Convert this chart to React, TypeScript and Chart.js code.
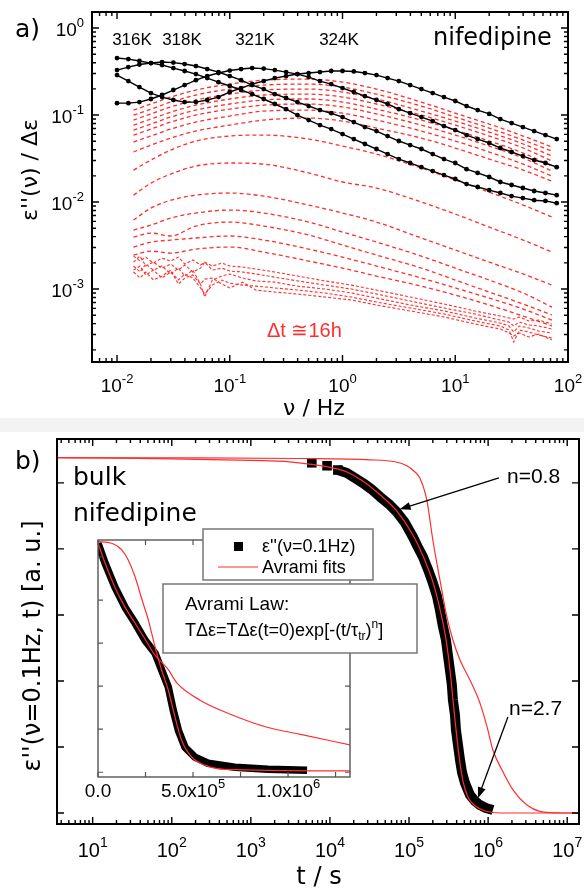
import React, { useEffect, useRef } from "react";
import { Chart, registerables } from "chart.js";
Chart.register(...registerables);

// ---------------- Panel a: dielectric loss spectra ----------------
const FREQ_HZ = [0.01, 0.0126, 0.0158, 0.02, 0.0251, 0.0316, 0.0398, 0.0501, 0.0631, 0.0794, 0.1, 0.126, 0.158, 0.2, 0.251, 0.316, 0.398, 0.501, 0.631, 0.794, 1, 1.26, 1.58, 2, 2.51, 3.16, 3.98, 5.01, 6.31, 7.94, 10, 12.6, 15.8, 20, 25.1, 31.6, 39.8, 50.1, 63.1, 79.4];
const EPS_316K = [0.452, 0.44, 0.418, 0.396, 0.376, 0.347, 0.321, 0.296, 0.266, 0.239, 0.216, 0.194, 0.174, 0.153, 0.134, 0.117, 0.1, 0.0876, 0.0767, 0.069, 0.0605, 0.053, 0.0465, 0.0407, 0.0356, 0.0312, 0.0281, 0.0252, 0.0227, 0.0204, 0.0184, 0.0161, 0.0149, 0.0137, 0.0127, 0.0117, 0.0111, 0.0105, 0.0103, 0.0097];
const EPS_318K = [0.329, 0.356, 0.381, 0.396, 0.407, 0.401, 0.386, 0.366, 0.338, 0.312, 0.281, 0.252, 0.221, 0.199, 0.174, 0.157, 0.141, 0.127, 0.114, 0.105, 0.0948, 0.0831, 0.0728, 0.0655, 0.0574, 0.0503, 0.0452, 0.0407, 0.0356, 0.0312, 0.0281, 0.0239, 0.0216, 0.0194, 0.017, 0.0157, 0.0145, 0.0134, 0.0127, 0.012];
const EPS_321K = [0.137, 0.137, 0.141, 0.153, 0.17, 0.194, 0.221, 0.252, 0.281, 0.304, 0.325, 0.338, 0.347, 0.342, 0.329, 0.312, 0.296, 0.273, 0.246, 0.227, 0.204, 0.184, 0.165, 0.149, 0.134, 0.117, 0.105, 0.0948, 0.0853, 0.0748, 0.0672, 0.0589, 0.053, 0.0477, 0.0418, 0.0376, 0.0338, 0.0304, 0.0281, 0.0252];
const EPS_324K = [0.288, 0.246, 0.21, 0.179, 0.161, 0.149, 0.141, 0.141, 0.149, 0.161, 0.184, 0.204, 0.227, 0.246, 0.266, 0.281, 0.296, 0.304, 0.312, 0.321, 0.321, 0.317, 0.304, 0.288, 0.266, 0.246, 0.221, 0.199, 0.179, 0.161, 0.145, 0.127, 0.114, 0.103, 0.09, 0.0809, 0.0728, 0.0655, 0.0589, 0.053];
const TEMP_LABELS = ["316K", "318K", "321K", "324K"];

const FREQ_RED = [0.014, 0.02, 0.03, 0.05, 0.1, 0.2, 0.5, 1, 2, 5, 10, 20, 40, 72];
const RED_01 = [0.114, 0.134, 0.161, 0.194, 0.227, 0.252, 0.259, 0.239, 0.199, 0.141, 0.105, 0.0788, 0.0574, 0.0429];
const RED_02 = [0.1, 0.117, 0.141, 0.17, 0.199, 0.221, 0.227, 0.21, 0.174, 0.127, 0.0948, 0.0709, 0.0516, 0.0386];
const RED_03 = [0.0876, 0.103, 0.124, 0.149, 0.174, 0.194, 0.199, 0.184, 0.153, 0.111, 0.0853, 0.0638, 0.0465, 0.0338];
const RED_04 = [0.0767, 0.09, 0.108, 0.13, 0.153, 0.17, 0.174, 0.161, 0.134, 0.1, 0.0767, 0.0574, 0.0418, 0.0296];
const RED_05 = [0.0672, 0.0788, 0.0948, 0.114, 0.134, 0.149, 0.153, 0.141, 0.117, 0.0876, 0.0672, 0.0503, 0.0366, 0.0259];
const RED_06 = [0.0589, 0.069, 0.0831, 0.1, 0.117, 0.13, 0.134, 0.124, 0.103, 0.0767, 0.0589, 0.044, 0.0321, 0.0227];
const RED_07 = [0.049, 0.0574, 0.069, 0.0831, 0.0974, 0.111, 0.114, 0.105, 0.0876, 0.0655, 0.0503, 0.0376, 0.0273, 0.0199];
const RED_08 = [0.0376, 0.0452, 0.0544, 0.0655, 0.0767, 0.0876, 0.0924, 0.0853, 0.0709, 0.0544, 0.0418, 0.0312, 0.0233, 0.0174];
const RED_09 = [0.0233, 0.0304, 0.0396, 0.0503, 0.0574, 0.0589, 0.053, 0.044, 0.0356, 0.0246, 0.0179, 0.013, 0.00924, 0.00672];
const RED_10 = [0.012, 0.0165, 0.021, 0.0259, 0.0281, 0.0273, 0.0216, 0.017, 0.0145, 0.01, 0.00728, 0.00516, 0.00366, 0.00266];
const RED_11 = [0.00621, 0.00853, 0.0105, 0.012, 0.0127, 0.0117, 0.00924, 0.00748, 0.00589, 0.00386, 0.00281, 0.00204, 0.00149, 0.00111];
const RED_12 = [0.00477, 0.00544, 0.00655, 0.00748, 0.00809, 0.00748, 0.00589, 0.00452, 0.00347, 0.00239, 0.00174, 0.00127, 0.0009, 0.000621];
const RED_13 = [0.00396, 0.0044, 0.00407, 0.0053, 0.00589, 0.0053, 0.00418, 0.00321, 0.00246, 0.00174, 0.00127, 0.000924, 0.000672, 0.000503];
const RED_14 = [0.00304, 0.00347, 0.00366, 0.00386, 0.00407, 0.00366, 0.00288, 0.00233, 0.00184, 0.00134, 0.00103, 0.000788, 0.000589, 0.00044];
const RED_15 = [0.00246, 0.00273, 0.00259, 0.00288, 0.00304, 0.00266, 0.0021, 0.00174, 0.00141, 0.00108, 0.000853, 0.000655, 0.00049, 0.000376];

const FREQ_NOISY = [0.014, 0.016, 0.018, 0.021, 0.025, 0.03, 0.035, 0.04, 0.047, 0.055, 0.06, 0.07, 0.085, 0.1, 0.13, 0.17, 0.25, 0.4, 0.7, 1.2, 2, 4, 8, 15, 25, 30, 33, 37, 45, 55, 72];
const NOISY_1 = [0.00239, 0.0021, 0.00233, 0.00199, 0.00227, 0.0021, 0.00233, 0.00194, 0.00216, 0.00189, 0.00204, 0.00184, 0.00199, 0.00184, 0.00179, 0.0017, 0.00157, 0.00141, 0.00124, 0.00111, 0.000974, 0.000809, 0.000672, 0.000559, 0.00049, 0.000465, 0.000452, 0.000477, 0.000429, 0.00044, 0.000396];
const NOISY_2 = [0.00204, 0.00239, 0.00184, 0.00204, 0.00174, 0.00194, 0.00165, 0.00189, 0.00157, 0.00174, 0.00204, 0.00165, 0.00174, 0.00161, 0.00157, 0.00149, 0.00137, 0.00124, 0.00111, 0.001, 0.000876, 0.000728, 0.000605, 0.000516, 0.00044, 0.000418, 0.000376, 0.000418, 0.000386, 0.000376, 0.000347];
const NOISY_3 = [0.00184, 0.00157, 0.00194, 0.00165, 0.00184, 0.00149, 0.00174, 0.00141, 0.00165, 0.00114, 0.000809, 0.00127, 0.00141, 0.00149, 0.00134, 0.00124, 0.0012, 0.00108, 0.001, 0.0009, 0.000788, 0.000655, 0.000559, 0.000465, 0.000407, 0.000376, 0.000321, 0.000376, 0.000356, 0.000329, 0.000312];
const NOISY_4 = [0.00165, 0.00184, 0.00145, 0.00165, 0.00134, 0.00157, 0.00127, 0.00149, 0.00134, 0.00103, 0.000876, 0.00111, 0.00127, 0.00117, 0.00111, 0.00108, 0.00103, 0.000974, 0.0009, 0.000809, 0.000709, 0.000605, 0.000516, 0.000429, 0.000376, 0.000338, 0.000246, 0.000338, 0.000321, 0.000296, 0.000273];
const NOISY_5 = [0.00157, 0.00134, 0.00157, 0.00127, 0.00141, 0.00165, 0.00114, 0.00134, 0.00145, 0.00114, 0.0013, 0.00134, 0.00114, 0.00103, 0.0012, 0.000974, 0.000924, 0.000876, 0.000809, 0.000748, 0.000655, 0.000559, 0.000477, 0.000396, 0.000347, 0.000312, 0.000288, 0.000312, 0.000281, 0.000304, 0.000259];

const A_X_TICKS = [0.01, 0.1, 1, 10, 100];
const A_Y_TICKS = [1, 0.1, 0.01, 0.001];

// ---------------- Panel b: eps'' at 0.1 Hz vs time ----------------
const T_MEAS = [5900, 9200, 12600, 16400, 20700, 26000, 33000, 43000, 55700, 70000, 89000, 112000, 129000, 150000, 173000, 200000, 225000, 246000, 266000, 293000, 310000, 329000, 348000, 359000, 381000, 392000, 416000, 441000, 467000, 510000, 589000, 682000, 789000, 940000, 1150000];
const EPS_MEAS = [1.061, 1.052, 1.039, 1.03, 1.015, 1.0, 0.982, 0.958, 0.936, 0.912, 0.879, 0.836, 0.806, 0.776, 0.739, 0.697, 0.658, 0.615, 0.57, 0.524, 0.479, 0.433, 0.388, 0.342, 0.297, 0.252, 0.206, 0.161, 0.124, 0.091, 0.055, 0.036, 0.024, 0.015, 0.009];
const T_FIT_A = [3.55, 10, 100, 1000, 3100, 5900, 10000, 16400, 26000, 43000, 70000, 112000, 150000, 200000, 246000, 293000, 329000, 359000, 392000, 427000, 480000, 557000, 690000, 920000, 1420000, 14000000];
const EPS_FIT_A = [1.077, 1.076, 1.073, 1.068, 1.064, 1.056, 1.047, 1.033, 1.006, 0.964, 0.915, 0.842, 0.779, 0.7, 0.618, 0.527, 0.436, 0.345, 0.255, 0.176, 0.097, 0.048, 0.021, 0.006, 0, 0];
const T_FIT_B = [3.55, 227, 4180, 32000, 66400, 94000, 115000, 137000, 168000, 200000, 246000, 301000, 359000, 440000, 589000, 789000, 970000, 1150000, 1500000, 2060000, 3100000, 4500000, 8800000, 14000000];
const EPS_FIT_B = [1.076, 1.076, 1.074, 1.07, 1.064, 1.052, 1.036, 1.015, 0.948, 0.827, 0.706, 0.594, 0.524, 0.464, 0.403, 0.333, 0.261, 0.191, 0.13, 0.07, 0.024, 0.005, 0, 0];
const B_X_TICKS = [10, 100, 1e3, 1e4, 1e5, 1e6, 1e7];
const B_Y_TICKS = [0, 0.2, 0.4, 0.6, 0.8, 1.0];

// inset (linear time)
const T_INSET = [0, 37000, 89000, 142000, 195000, 247000, 300000, 335000, 370000, 396000, 423000, 458000, 510000, 579000, 720000, 895000, 1100000];
const EPS_INSET = [1.064, 0.972, 0.86, 0.767, 0.693, 0.614, 0.553, 0.474, 0.395, 0.288, 0.195, 0.116, 0.07, 0.042, 0.023, 0.014, 0.009];
const T_INSET_FIT_A = [0, 72000, 125000, 159000, 195000, 230000, 265000, 300000, 335000, 370000, 405000, 440000, 493000, 563000, 668000, 1330000];
const EPS_INSET_FIT_A = [1.071, 1.064, 1.033, 0.986, 0.908, 0.806, 0.707, 0.583, 0.474, 0.381, 0.257, 0.149, 0.071, 0.033, 0.013, 0.006];
const T_INSET_FIT_B = [0, 37000, 89000, 142000, 195000, 247000, 300000, 368000, 416000, 537000, 710000, 890000, 1060000, 1330000];
const EPS_INSET_FIT_B = [1.065, 0.972, 0.86, 0.767, 0.693, 0.619, 0.544, 0.479, 0.414, 0.335, 0.265, 0.209, 0.177, 0.126];
const INSET_X_TICKS = [0, 500000, 1000000];
const INSET_X_MINOR = [250000, 750000, 1250000];
const INSET_X_LABELS = [["0.0", ""], ["5.0x10", "5"], ["1.0x10", "6"]];
const INSET_Y_TICKS = [0, 0.2, 0.4, 0.6, 0.8, 1.0];

// ---------------- helpers ----------------
const RED = "#ff2e2e";
const SANS = '"Liberation Sans", Arial, sans-serif';
const DJV = '"DejaVu Sans", sans-serif';
const OFF_B = 430;

const pts = (xs: number[], ys: number[]) => xs.map((x, i) => ({ x, y: ys[i] }));

function logMinor(min: number, max: number) {
  const out: number[] = [];
  for (let e = Math.floor(Math.log10(min)); e <= Math.ceil(Math.log10(max)); e++) {
    for (let k = 2; k <= 9; k++) {
      const v = k * Math.pow(10, e);
      if (v > min && v < max) out.push(v);
    }
  }
  return out;
}

type FrameOpts = {
  xMajor: number[]; xMinor: number[]; yMajor: number[]; yMinor: number[];
  major: number; minor: number; color: string; frameWidth: number; tickWidth: number;
};

function drawFrame(chart: any, o: FrameOpts) {
  const { ctx, chartArea: a } = chart;
  const xs = chart.scales.x, ys = chart.scales.y;
  ctx.save();
  ctx.strokeStyle = o.color;
  ctx.lineWidth = o.tickWidth;
  ctx.beginPath();
  const vx = (vals: number[], len: number) => vals.forEach((v) => {
    const p = xs.getPixelForValue(v);
    if (p < a.left - 0.5 || p > a.right + 0.5) return;
    ctx.moveTo(p, a.bottom); ctx.lineTo(p, a.bottom - len);
    ctx.moveTo(p, a.top); ctx.lineTo(p, a.top + len);
  });
  const vy = (vals: number[], len: number) => vals.forEach((v) => {
    const p = ys.getPixelForValue(v);
    if (p < a.top - 0.5 || p > a.bottom + 0.5) return;
    ctx.moveTo(a.left, p); ctx.lineTo(a.left + len, p);
    ctx.moveTo(a.right, p); ctx.lineTo(a.right - len, p);
  });
  vx(o.xMajor, o.major); vx(o.xMinor, o.minor);
  vy(o.yMajor, o.major); vy(o.yMinor, o.minor);
  ctx.stroke();
  ctx.lineWidth = o.frameWidth;
  ctx.strokeRect(a.left, a.top, a.right - a.left, a.bottom - a.top);
  ctx.restore();
}

function text(ctx: CanvasRenderingContext2D, s: string, x: number, y: number, font: string, color = "#000", align: CanvasTextAlign = "left") {
  ctx.save();
  ctx.font = font; ctx.fillStyle = color; ctx.textAlign = align; ctx.textBaseline = "alphabetic";
  ctx.fillText(s, x, y);
  ctx.restore();
}

function vText(ctx: CanvasRenderingContext2D, s: string, cx: number, cy: number, font: string) {
  ctx.save();
  ctx.translate(cx, cy); ctx.rotate(-Math.PI / 2);
  ctx.font = font; ctx.fillStyle = "#000"; ctx.textAlign = "center"; ctx.textBaseline = "middle";
  ctx.fillText(s, 0, 0);
  ctx.restore();
}

type Run = { t: string; f: string; dy?: number };
function runs(ctx: CanvasRenderingContext2D, rs: Run[], x: number, y: number, align: "left" | "center" | "right" = "left") {
  ctx.save();
  ctx.fillStyle = "#000"; ctx.textAlign = "left"; ctx.textBaseline = "alphabetic";
  let total = 0;
  rs.forEach((r) => { ctx.font = r.f; total += ctx.measureText(r.t).width; });
  let cx = align === "left" ? x : align === "center" ? x - total / 2 : x - total;
  rs.forEach((r) => { ctx.font = r.f; ctx.fillText(r.t, cx, y + (r.dy || 0)); cx += ctx.measureText(r.t).width; });
  ctx.restore();
}

function arrow(ctx: CanvasRenderingContext2D, x0: number, y0: number, x1: number, y1: number) {
  const ang = Math.atan2(y1 - y0, x1 - x0);
  const L = 11, W = 4;
  ctx.save();
  ctx.strokeStyle = "#000"; ctx.fillStyle = "#000"; ctx.lineWidth = 1.3;
  ctx.beginPath(); ctx.moveTo(x0, y0); ctx.lineTo(x1 - (L - 2) * Math.cos(ang), y1 - (L - 2) * Math.sin(ang)); ctx.stroke();
  ctx.beginPath();
  ctx.moveTo(x1, y1);
  ctx.lineTo(x1 - L * Math.cos(ang) + W * Math.sin(ang), y1 - L * Math.sin(ang) - W * Math.cos(ang));
  ctx.lineTo(x1 - L * Math.cos(ang) - W * Math.sin(ang), y1 - L * Math.sin(ang) + W * Math.cos(ang));
  ctx.closePath(); ctx.fill();
  ctx.restore();
}

const baseOptions = (padding: any) => ({
  animation: false as const,
  responsive: false,
  maintainAspectRatio: false,
  events: [] as any[],
  layout: { padding, autoPadding: false },
  plugins: { legend: { display: false }, tooltip: { enabled: false } },
});

// ---------------- component ----------------
export default function App() {
  const refA = useRef<HTMLCanvasElement>(null);
  const refB = useRef<HTMLCanvasElement>(null);
  const refI = useRef<HTMLCanvasElement>(null);

  useEffect(() => {
    const charts: Chart[] = [];

    // ----- Panel a -----
    const blackA = [EPS_316K, EPS_318K, EPS_321K, EPS_324K].map((arr) => ({
      data: pts(FREQ_HZ, arr), borderColor: "#000", borderWidth: 1.4,
      pointRadius: 2.4, pointBorderWidth: 0, pointBackgroundColor: "#000", tension: 0, order: 0,
    }));
    const redA = [RED_01, RED_02, RED_03, RED_04, RED_05, RED_06, RED_07, RED_08, RED_09, RED_10, RED_11, RED_12, RED_13, RED_14, RED_15].map((arr) => ({
      data: pts(FREQ_RED, arr), borderColor: RED, borderWidth: 1.3, borderDash: [4, 3],
      pointRadius: 0, cubicInterpolationMode: "monotone", order: 1,
    }));
    const noisyA = [NOISY_1, NOISY_2, NOISY_3, NOISY_4, NOISY_5].map((arr) => ({
      data: pts(FREQ_NOISY, arr), borderColor: RED, borderWidth: 1.1, borderDash: [3, 2],
      pointRadius: 0, tension: 0, order: 1,
    }));

    const panelA = {
      id: "panelA",
      afterDraw(chart: any) {
        const ctx = chart.ctx as CanvasRenderingContext2D;
        const xs = chart.scales.x, ys = chart.scales.y;
        drawFrame(chart, {
          xMajor: A_X_TICKS, xMinor: logMinor(xs.min, xs.max),
          yMajor: A_Y_TICKS, yMinor: logMinor(ys.min, ys.max),
          major: 7, minor: 4, color: "#000", frameWidth: 2, tickWidth: 1.4,
        });
        A_X_TICKS.forEach((v) => {
          const e = Math.round(Math.log10(v));
          runs(ctx, [{ t: "10", f: `19px ${SANS}` }, { t: String(e), f: `13px ${SANS}`, dy: -9 }], xs.getPixelForValue(v), 392, "center");
        });
        A_Y_TICKS.forEach((v) => {
          const e = Math.round(Math.log10(v));
          runs(ctx, [{ t: "10", f: `19px ${SANS}` }, { t: String(e), f: `13px ${SANS}`, dy: -9 }], 84, ys.getPixelForValue(v) + 8, "right");
        });
        const lx = [132, 182, 255, 339];
        TEMP_LABELS.forEach((s, i) => text(ctx, s, lx[i], 45, `17px ${SANS}`, "#000", "center"));
        text(ctx, "nifedipine", 433, 45, `24px ${DJV}`);
        text(ctx, "a)", 15, 37, `25px ${DJV}`);
        text(ctx, "Δt ≅16h", 267, 337, `20px ${SANS}`, RED);
        text(ctx, "ν / Hz", 314, 415, `22px ${DJV}`, "#000", "center");
        vText(ctx, "ε''(ν) / Δε", 31, 170, `22px ${DJV}`);
      },
    };

    charts.push(new Chart(refA.current!, {
      type: "line",
      data: { datasets: [...blackA, ...redA, ...noisyA] as any },
      options: {
        ...baseOptions({ left: 92, right: 16, top: 12, bottom: 56 }),
        scales: {
          x: { type: "logarithmic", min: 0.006, max: 100, display: false },
          y: { type: "logarithmic", min: 1.45e-4, max: 1.53, display: false },
        },
      } as any,
      plugins: [panelA],
    }));

    // ----- Panel b -----
    const panelB = {
      id: "panelB",
      afterDraw(chart: any) {
        const ctx = chart.ctx as CanvasRenderingContext2D;
        const xs = chart.scales.x, ys = chart.scales.y;
        drawFrame(chart, {
          xMajor: B_X_TICKS, xMinor: logMinor(xs.min, xs.max),
          yMajor: B_Y_TICKS, yMinor: [],
          major: 7, minor: 4, color: "#000", frameWidth: 2, tickWidth: 1.4,
        });
        B_X_TICKS.forEach((v) => {
          const e = Math.round(Math.log10(v));
          runs(ctx, [{ t: "10", f: `20px ${SANS}` }, { t: String(e), f: `14px ${SANS}`, dy: -10 }], xs.getPixelForValue(v), 857 - OFF_B, "center");
        });
        text(ctx, "b)", 15, 469 - OFF_B, `25px ${DJV}`);
        text(ctx, "bulk", 73, 485 - OFF_B, `25px ${DJV}`);
        text(ctx, "nifedipine", 73, 521 - OFF_B, `25px ${DJV}`);
        text(ctx, "n=0.8", 507, 483 - OFF_B, `21px ${SANS}`);
        text(ctx, "n=2.7", 509, 715 - OFF_B, `21px ${SANS}`);
        text(ctx, "t / s", 319, 884 - OFF_B, `24px ${DJV}`, "#000", "center");
        vText(ctx, "ε''(ν=0.1Hz, t) [a. u.]", 34, 646 - OFF_B, `24px ${DJV}`);
        arrow(ctx, xs.getPixelForValue(1.37e6), ys.getPixelForValue(1.015), xs.getPixelForValue(7.6e4), ys.getPixelForValue(0.92));
        arrow(ctx, xs.getPixelForValue(1.78e6), ys.getPixelForValue(0.291), xs.getPixelForValue(7.43e5), ys.getPixelForValue(0.045));
      },
    };

    charts.push(new Chart(refB.current!, {
      type: "line",
      data: {
        datasets: [
          {
            data: pts(T_MEAS, EPS_MEAS), borderColor: "#000", borderWidth: 10, borderJoinStyle: "round",
            pointStyle: "rect", pointRadius: (c: any) => (c.dataIndex < 3 ? 6.8 : 0), pointBorderWidth: 0,
            pointBackgroundColor: "#000", tension: 0, order: 1,
            segment: { borderColor: (c: any) => (c.p0DataIndex < 2 ? "rgba(0,0,0,0)" : "#000") },
          },
          { data: pts(T_FIT_A, EPS_FIT_A), borderColor: RED, borderWidth: 1.2, pointRadius: 0, cubicInterpolationMode: "monotone", order: 0 },
          { data: pts(T_FIT_B, EPS_FIT_B), borderColor: RED, borderWidth: 1.2, pointRadius: 0, cubicInterpolationMode: "monotone", order: 0 },
        ] as any,
      },
      options: {
        ...baseOptions({ left: 57, right: 5, top: 9, bottom: 64 }),
        scales: {
          x: { type: "logarithmic", min: 3.54, max: 1.41e7, display: false },
          y: { type: "linear", min: -0.0333, max: 1.133, display: false },
        },
      } as any,
      plugins: [panelB],
    }));

    // ----- Inset -----
    const inset = {
      id: "inset",
      afterDraw(chart: any) {
        const ctx = chart.ctx as CanvasRenderingContext2D;
        const xs = chart.scales.x;
        drawFrame(chart, {
          xMajor: INSET_X_TICKS, xMinor: INSET_X_MINOR, yMajor: INSET_Y_TICKS, yMinor: [],
          major: 5, minor: 5, color: "#555", frameWidth: 1.4, tickWidth: 1.2,
        });
        INSET_X_TICKS.forEach((v, i) => {
          const [b, e] = INSET_X_LABELS[i];
          runs(ctx, [{ t: b, f: `19px ${SANS}` }, { t: e, f: `13px ${SANS}`, dy: -9 }], xs.getPixelForValue(v), 797 - OFF_B, "center");
        });
        // legend box
        ctx.save();
        ctx.fillStyle = "#fff"; ctx.strokeStyle = "#777"; ctx.lineWidth = 1.5;
        ctx.fillRect(203, 529 - OFF_B, 170, 51); ctx.strokeRect(203, 529 - OFF_B, 170, 51);
        ctx.fillStyle = "#000"; ctx.fillRect(234, 542 - OFF_B, 9, 9);
        ctx.strokeStyle = RED; ctx.lineWidth = 1.2;
        ctx.beginPath(); ctx.moveTo(218, 567 - OFF_B); ctx.lineTo(258, 567 - OFF_B); ctx.stroke();
        ctx.restore();
        text(ctx, "ε''(ν=0.1Hz)", 262, 552 - OFF_B, `18px ${SANS}`);
        text(ctx, "Avrami fits", 262, 573 - OFF_B, `18px ${SANS}`);
        // law box
        ctx.save();
        ctx.fillStyle = "#fff"; ctx.strokeStyle = "#777"; ctx.lineWidth = 1.5;
        ctx.fillRect(163, 584 - OFF_B, 254, 69); ctx.strokeRect(163, 584 - OFF_B, 254, 69);
        ctx.restore();
        text(ctx, "Avrami Law:", 185, 610 - OFF_B, `19px ${SANS}`);
        runs(ctx, [
          { t: "TΔε=TΔε(t=0)exp[-(t/τ", f: `18px ${SANS}` },
          { t: "tr", f: `12px ${SANS}`, dy: 4 },
          { t: ")", f: `18px ${SANS}` },
          { t: "n", f: `12px ${SANS}`, dy: -8 },
          { t: "]", f: `18px ${SANS}` },
        ], 185, 636 - OFF_B);
      },
    };

    charts.push(new Chart(refI.current!, {
      type: "line",
      data: {
        datasets: [
          { data: pts(T_INSET, EPS_INSET), borderColor: "#000", borderWidth: 7.5, borderJoinStyle: "round", pointRadius: 0, tension: 0, order: 1 },
          { data: pts(T_INSET_FIT_A, EPS_INSET_FIT_A), borderColor: RED, borderWidth: 1.2, pointRadius: 0, cubicInterpolationMode: "monotone", order: 0 },
          { data: pts(T_INSET_FIT_B, EPS_INSET_FIT_B), borderColor: RED, borderWidth: 1.2, pointRadius: 0, cubicInterpolationMode: "monotone", order: 0 },
        ] as any,
      },
      options: {
        ...baseOptions({ left: 98, right: 234, top: 110, bottom: 111 }),
        scales: {
          x: { type: "linear", min: 0, max: 1.326e6, display: false },
          y: { type: "linear", min: -0.022, max: 1.079, display: false },
        },
      } as any,
      plugins: [inset],
    }));

    return () => charts.forEach((c) => c.destroy());
  }, []);

  return (
    <div style={{ position: "absolute", left: 0, top: 0, width: 584, height: 888, background: "#fff", overflow: "hidden" }}>
      <div style={{ position: "absolute", left: 0, top: 418, width: 584, height: 14, background: "#f3f3f3" }} />
      <canvas ref={refA} width={584} height={418} style={{ position: "absolute", left: 0, top: 0 }} />
      <canvas ref={refB} width={584} height={458} style={{ position: "absolute", left: 0, top: OFF_B }} />
      <canvas ref={refI} width={584} height={458} style={{ position: "absolute", left: 0, top: OFF_B }} />
    </div>
  );
}
